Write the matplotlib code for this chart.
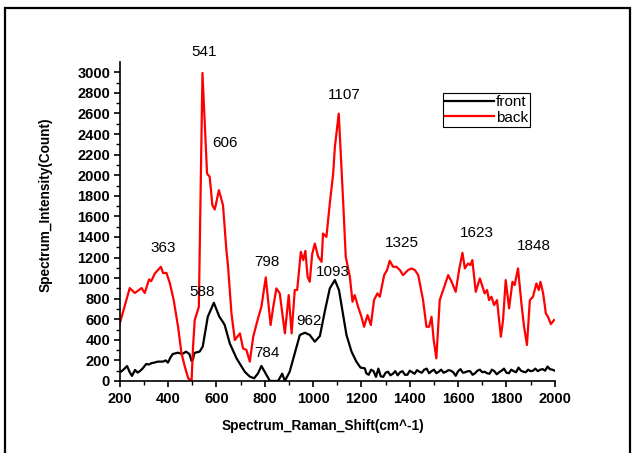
import numpy as np
import matplotlib
matplotlib.use('Agg')
import matplotlib.pyplot as plt
from matplotlib.patches import Rectangle

plt.rcParams['font.family'] = ['Liberation Sans', 'DejaVu Sans']

# back spectrum (red)
back_x = [200, 241, 262, 290, 303, 321, 330, 345, 370, 379, 393, 407, 423, 441, 455,
          469, 483, 497, 503, 510, 527, 542, 561, 572, 583, 593, 610, 627, 641, 648,
          662, 676, 697, 710, 724, 738, 752, 772, 786, 804, 824, 834, 848, 862, 883,
          899, 911, 924, 934, 949, 959, 968, 977, 986, 996, 1007, 1021, 1035, 1041, 1055,
          1069, 1083, 1090, 1106, 1124, 1135, 1152, 1163, 1172, 1186, 1200, 1211, 1225, 1239, 1252,
          1266, 1276, 1294, 1306, 1317, 1331, 1345, 1359, 1372, 1393, 1407, 1421, 1435, 1455, 1469,
          1480, 1490, 1499, 1510, 1524, 1538, 1559, 1573, 1590, 1604, 1618, 1628, 1641, 1651, 1659,
          1673, 1690, 1701, 1710, 1720, 1728, 1738, 1749, 1761, 1777, 1786, 1797, 1811, 1825, 1834,
          1848, 1862, 1873, 1885, 1897, 1910, 1924, 1934, 1941, 1952, 1963, 1972, 1984, 1997]
back_y = [560, 903, 855, 903, 855, 987, 970, 1045, 1110, 1050, 1050, 950, 786, 527, 272,
          139, 26, 0, 333, 592, 720, 2994, 2016, 1984, 1709, 1667, 1855, 1709, 1272, 1110,
          657, 398, 463, 317, 301, 188, 430, 609, 722, 1007, 544, 706, 900, 851, 463,
          835, 463, 884, 884, 1255, 1175, 1265, 1013, 964, 1233, 1336, 1207, 1158, 1433, 1401,
          1725, 2016, 2275, 2599, 1757, 1207, 1013, 770, 835, 722, 624, 527, 641, 544, 786,
          851, 819, 1029, 1078, 1168, 1110, 1110, 1078, 1029, 1078, 1094, 1078, 1029, 786, 527,
          527, 624, 398, 220, 786, 884, 1029, 964, 867, 1078, 1246, 1094, 1142, 1126, 1175,
          867, 997, 916, 851, 884, 786, 819, 738, 786, 430, 592, 981, 706, 964, 932,
          1094, 754, 527, 350, 786, 819, 948, 884, 964, 851, 657, 624, 553, 592]

# front spectrum (black)
front_x = [200, 205, 215, 230, 240, 250, 263, 274, 285, 295, 309, 320, 330, 345, 357,
           378, 390, 399, 410, 419, 440, 458, 474, 488, 497, 502, 508, 512, 530, 543,
           564, 589, 612, 626, 634, 655, 683, 717, 738, 756, 772, 786, 803, 821, 855,
           872, 883, 903, 924, 945, 966, 986, 1007, 1028, 1048, 1069, 1090, 1107, 1121, 1138,
           1159, 1179, 1196, 1214,
           1220, 1230, 1240, 1250, 1260, 1270, 1280, 1290, 1300, 1310, 1320, 1330, 1340, 1350,
           1360, 1370, 1380, 1390, 1400, 1410, 1420, 1430, 1440, 1450, 1460, 1470, 1480, 1490,
           1500, 1510, 1520, 1530, 1540, 1550, 1560, 1570, 1580, 1590, 1600, 1610, 1620, 1630,
           1640, 1650, 1660, 1670, 1680, 1690, 1700, 1710, 1720, 1730, 1740, 1750, 1760, 1770,
           1780, 1790, 1800, 1810, 1820, 1830, 1840, 1850, 1860, 1870, 1880, 1890, 1900, 1910,
           1920, 1930, 1940, 1950, 1960, 1970, 1980, 1990, 2000]
front_y = [100, 90, 110, 145, 90, 49, 107, 81, 100, 123, 165, 160, 172, 180, 188,
           188, 200, 178, 230, 262, 275, 262, 285, 262, 194, 204, 268, 275, 285, 333,
           624, 760, 624, 576, 544, 366, 220, 90, 42, 26, 75, 146, 75, 0, 0,
           71, 0, 90, 268, 447, 469, 447, 382, 437, 673, 900, 981, 884, 689, 447,
           285, 188, 130, 123,
           75, 60, 110, 95, 40, 120, 45, 40, 80, 90, 55, 70, 95, 55,
           85, 95, 60, 60, 100, 85, 70, 105, 90, 80, 110, 120, 75, 95,
           110, 75, 90, 110, 80, 90, 105, 100, 85, 50, 95, 115, 80, 85,
           95, 95, 60, 75, 100, 110, 85, 90, 75, 70, 110, 95, 65, 85,
           100, 120, 80, 75, 110, 95, 85, 130, 100, 90, 85, 110, 95, 100,
           120, 95, 110, 115, 100, 140, 115, 110, 100]

peak_labels = ['541', '606', '1107', '363', '588', '798', '784', '962', '1093', '1325', '1623', '1848']
peak_x = [548, 634, 1127, 378, 539, 808, 808, 982, 1081, 1367, 1677, 1913]
peak_y = [3195, 2311, 2777, 1291, 864, 1155, 272, 583, 1058, 1340, 1437, 1311]

fig = plt.figure(figsize=(6.34, 4.53), dpi=100)
ax = fig.add_axes([0.189, 0.159, 0.686, 0.704])

ax.plot(front_x, front_y, color='black', lw=1.6, label='front')
ax.plot(back_x, back_y, color='red', lw=1.6, label='back')

for lab, px, py in zip(peak_labels, peak_x, peak_y):
    ax.text(px, py, lab, ha='center', va='center', fontsize=11, clip_on=False)

ax.set_xlim(200, 2000)
ax.set_ylim(0, 3100)
ax.set_xticks(np.arange(200, 2001, 200))
ax.set_yticks(np.arange(0, 3001, 200))
ax.set_xticks(np.arange(300, 2000, 200), minor=True)
ax.set_yticks(np.arange(100, 3100, 200), minor=True)
ax.spines['top'].set_visible(False)
ax.spines['right'].set_visible(False)
ax.spines['left'].set_linewidth(1.2)
ax.spines['bottom'].set_linewidth(1.2)
ax.tick_params(which='major', direction='out', length=4.5, width=1.2, labelsize=10.5)
ax.tick_params(axis='y', which='major', pad=2.5)
ax.tick_params(which='minor', direction='out', length=3, width=1.0)
for t in ax.get_xticklabels() + ax.get_yticklabels():
    t.set_fontweight('bold')

ax.set_xlabel('Spectrum_Raman_Shift(cm^-1)', fontsize=9.8, fontweight='bold')
ax.xaxis.set_label_coords(0.467, -0.12)
ax.set_ylabel('Spectrum_Intensity(Count)', fontsize=9.8, fontweight='bold')
ax.yaxis.set_label_coords(-0.155, 0.552)

leg = ax.legend(loc='upper left', bbox_to_anchor=(0.742, 0.903), fontsize=11,
                frameon=True, fancybox=False, edgecolor='black', framealpha=1,
                borderpad=0.15, handlelength=3.2, handletextpad=0.15, labelspacing=0.1,
                borderaxespad=0)
leg.get_frame().set_linewidth(0.8)

fig.patches.append(Rectangle((5 / 634, -0.02), 625 / 634, 1 - 8 / 453 + 0.02,
                             transform=fig.transFigure, fill=False,
                             edgecolor='black', linewidth=1.6))

fig.savefig('out.png', dpi=100)
